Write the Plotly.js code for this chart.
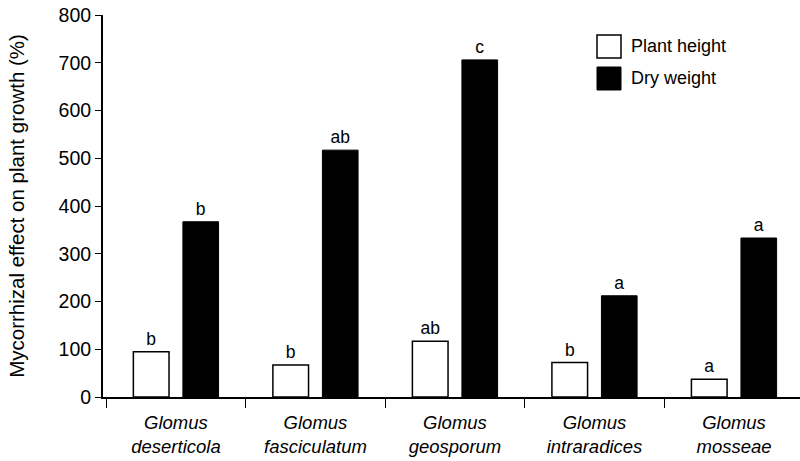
<!DOCTYPE html>
<html>
<head>
<meta charset="utf-8">
<script src="https://cdn.plot.ly/plotly-3.0.1.min.js"></script>
<style>html,body{margin:0;padding:0;background:#fff;}#chart{width:800px;height:461px;}</style>
</head>
<body>
<div id="chart"></div>
<script>
const genus = ["Glomus", "Glomus", "Glomus", "Glomus", "Glomus"];
const species = ["deserticola", "fasciculatum", "geosporum", "intraradices", "mosseae"];
const categories = species.map((s, i) => "<i>" + genus[i] + "</i><br><i>" + s + "</i>");
const seriesNames = ["Plant height", "Dry weight"];
const plantHeight = [95, 67, 117, 72, 37];
const dryWeight = [367, 517, 706, 212, 333];
const plantLetters = ["b", "b", "ab", "b", "a"];
const dryLetters = ["b", "ab", "c", "a", "a"];
const yTicks = [0, 100, 200, 300, 400, 500, 600, 700, 800];

const font = "Liberation Sans, Arial, sans-serif";

const traces = [
  {
    type: "bar", name: seriesNames[0], x: categories, y: plantHeight,
    text: plantLetters, textposition: "outside", cliponaxis: false,
    textfont: {family: font, size: 17.5, color: "#000"},
    marker: {color: "#fff", line: {color: "#000", width: 1.5}},
    hoverinfo: "skip"
  },
  {
    type: "bar", name: seriesNames[1], x: categories, y: dryWeight,
    text: dryLetters, textposition: "outside", cliponaxis: false,
    textfont: {family: font, size: 17.5, color: "#000"},
    marker: {color: "#000", line: {color: "#000", width: 1}},
    hoverinfo: "skip"
  }
];

const layout = {
  width: 800, height: 461,
  margin: {l: 103, r: 0, t: 15, b: 64},
  paper_bgcolor: "#fff", plot_bgcolor: "#fff",
  font: {family: font, size: 18, color: "#000"},
  showlegend: false,
  barmode: "group", bargap: 0.29, bargroupgap: 0.28,
  xaxis: {
    type: "category", range: [-0.523, 4.473],
    showline: true, linecolor: "#000", linewidth: 2,
    ticks: "outside", tickson: "boundaries", ticklen: 9, tickwidth: 1, tickcolor: "#000",
    tickfont: {family: font, size: 18.5, color: "#000"},
    ticklabelstandoff: 8,
    showgrid: false, zeroline: false, fixedrange: true
  },
  yaxis: {
    range: [0, 800], tickvals: yTicks, ticktext: yTicks.map(String),
    showline: true, linecolor: "#000", linewidth: 2,
    ticks: "outside", ticklen: 6, tickwidth: 1, tickcolor: "#000",
    tickfont: {family: font, size: 19.5, color: "#000"},
    showgrid: false, zeroline: false, fixedrange: true,
    title: {text: "Mycorrhizal effect on plant growth (%)", font: {family: font, size: 20.5, color: "#000"}, standoff: 28}
  },
  shapes: [
    {type: "rect", xref: "paper", yref: "paper", x0: (597-103)/697, x1: (621-103)/697, y0: (397-58)/382, y1: (397-35)/382,
     fillcolor: "#fff", line: {color: "#000", width: 1.5}},
    {type: "rect", xref: "paper", yref: "paper", x0: (597-103)/697, x1: (621-103)/697, y0: (397-90)/382, y1: (397-67)/382,
     fillcolor: "#000", line: {color: "#000", width: 1}}
  ],
  annotations: [
    {xref: "paper", yref: "paper", x: (629-103)/697, y: (397-46)/382, xanchor: "left", yanchor: "middle",
     text: seriesNames[0], showarrow: false, font: {family: font, size: 18, color: "#000"}},
    {xref: "paper", yref: "paper", x: (629-103)/697, y: (397-78)/382, xanchor: "left", yanchor: "middle",
     text: seriesNames[1], showarrow: false, font: {family: font, size: 18, color: "#000"}}
  ]
};

Plotly.newPlot("chart", traces, layout, {staticPlot: true, displayModeBar: false});
</script>
</body>
</html>
